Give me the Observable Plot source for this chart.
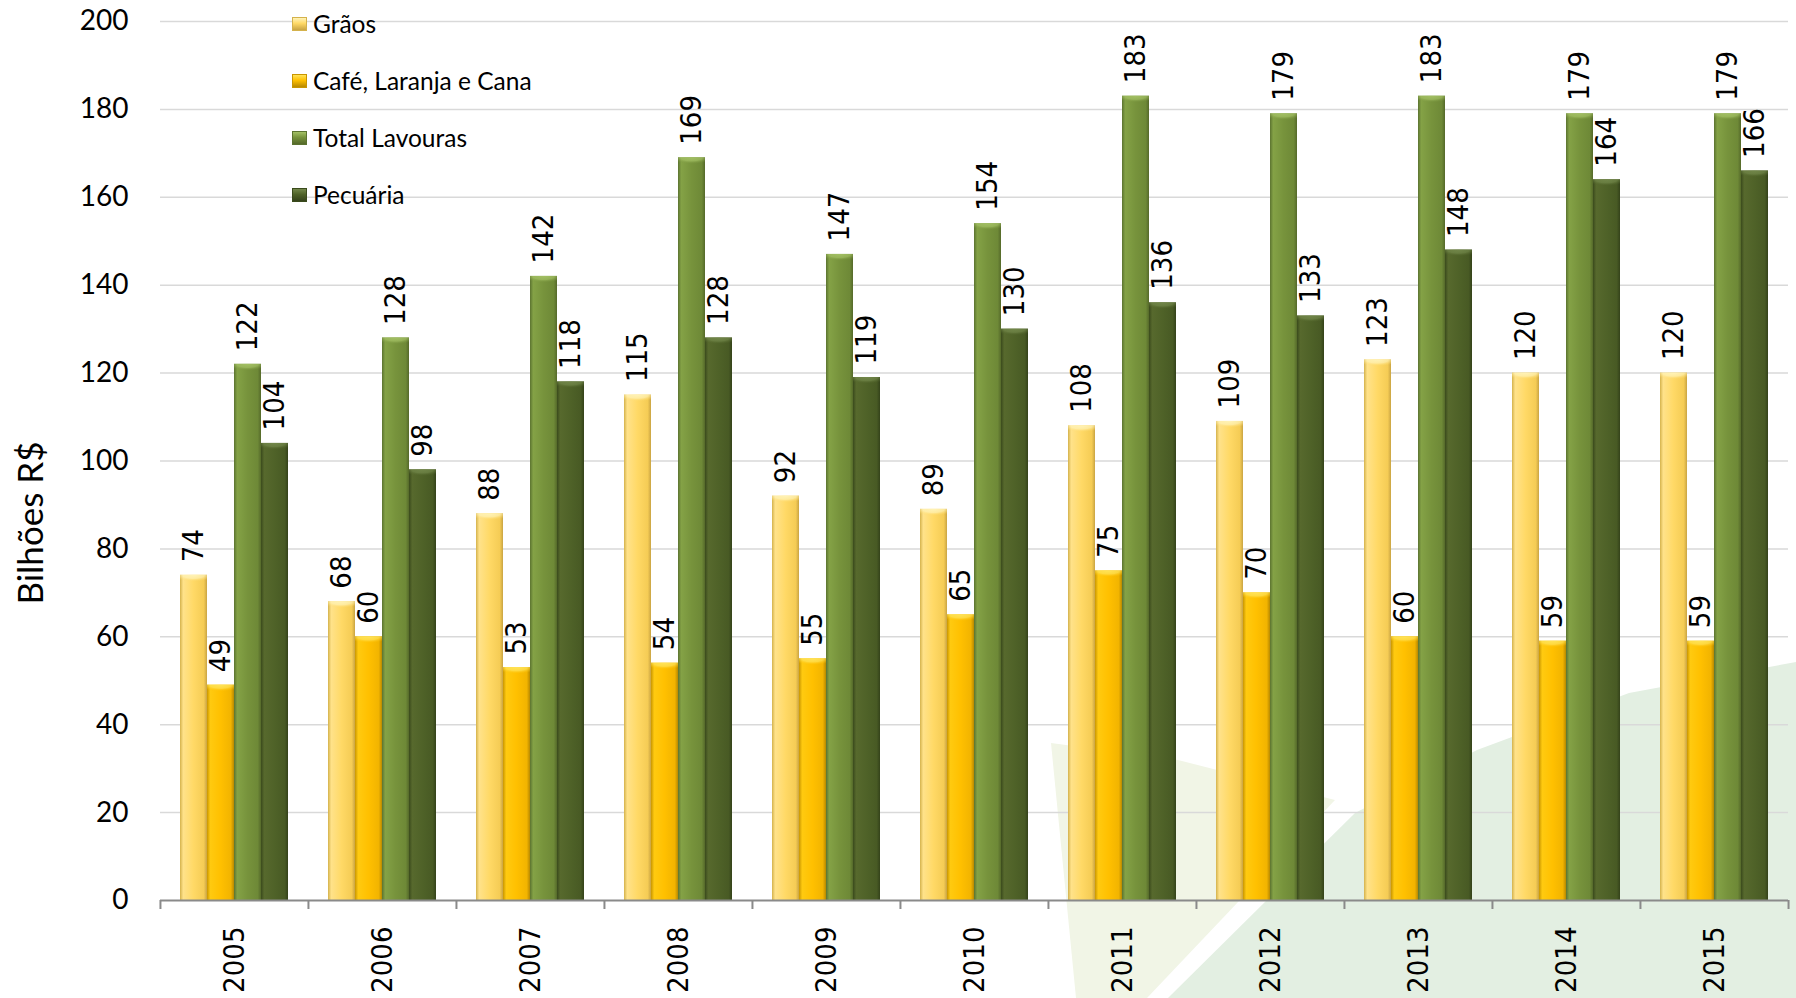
<!DOCTYPE html>
<html>
<head>
<meta charset="utf-8">
<script src="https://cdn.jsdelivr.net/npm/d3@7"></script>
<script src="https://cdn.jsdelivr.net/npm/@observablehq/plot@0.6"></script>
<style>
html, body { margin: 0; padding: 0; background: #fff; }
#wrap { position: relative; width: 1796px; height: 998px; overflow: hidden; background: #fff; }
.bg { position: absolute; left: 0; top: 0; width: 1796px; height: 998px; }
.bg1 { background: #f1f5e6; clip-path: polygon(1051px 743px, 1178px 760px, 1335px 800px, 1147px 998px, 1076px 998px); }
.bg2 { background: #e3efe2; clip-path: polygon(1355px 813px, 1477px 750px, 1629px 693px, 1796px 662px, 1796px 998px, 1168px 998px); }
#chart { position: absolute; left: 0; top: 0; }
#ylabel { position: absolute; left: 28.5px; top: 523px; transform: translate(-50%, -50%) rotate(-90deg);
  font-family: Lato, sans-serif; font-size: 35px; color: #000; white-space: nowrap; }
#legend { position: absolute; left: 292px; top: 0; }
.item { position: absolute; left: 0; height: 28px; display: flex; align-items: center;
  font-family: Lato, sans-serif; font-size: 24.5px; color: #000; white-space: nowrap; }
.sw { width: 15px; height: 14px; margin-right: 6px; box-sizing: border-box; }
</style>
</head>
<body>
<div id="wrap">
  <div class="bg bg1"></div>
  <div class="bg bg2"></div>
  <div id="chart"></div>
  <div id="ylabel">Bilhões R$</div>
  <div id="legend"></div>
</div>
<script>
// ---- Data ----
const years = ["2005","2006","2007","2008","2009","2010","2011","2012","2013","2014","2015"];
const series = ["Grãos", "Café, Laranja e Cana", "Total Lavouras", "Pecuária"];
const graos    = [74, 68, 88, 115, 92, 89, 108, 109, 123, 120, 120];
const cafe     = [49, 60, 53, 54, 55, 65, 75, 70, 60, 59, 59];
const total    = [122, 128, 142, 169, 147, 154, 183, 179, 183, 179, 179];
const pecuaria = [104, 98, 118, 128, 119, 130, 136, 133, 148, 164, 166];
const yTicks = [0, 20, 40, 60, 80, 100, 120, 140, 160, 180, 200];
const yLabel = "Bilhões R$";

// ---- Styles ----
const barStops = [
  ["#d4b24c", "#ffe28a", "#ffd966", "#f5cc55", "#c9a443"],
  ["#c99600", "#ffca10", "#ffc000", "#f2b400", "#b88900"],
  ["#5b7330", "#84a246", "#77933c", "#6e8937", "#55692a"],
  ["#3a4a1c", "#57692d", "#4f6228", "#485a24", "#34421a"]
];
const capLight = ["#fff3b8", "#ffe45a", "#a3c064", "#72874a"];
const baseColors = ["#ffd966", "#ffc000", "#77933c", "#4f6228"];

const cols = [graos, cafe, total, pecuaria];
const table = years.flatMap((year, i) => cols.map((arr, k) => ({year, series: series[k], k, value: arr[i]})));

const fontNum = "DejaVu Sans Condensed, DejaVu Sans, sans-serif";
const W = 1796, H = 998, ML = 159, MR = 8, MT = 21, MB = 98;
const half = (W - ML - MR) / years.length / 2;
const tickLen = 9 * 200 / (H - MT - MB); // boundary tick length expressed in y units

const marks = [
  Plot.ruleY(yTicks.slice(1), {y: d => d, stroke: "#d9d9d9", strokeWidth: 1.5}),
  ...series.map((s, k) => Plot.barY(table.filter(d => d.k === k), {
    fx: "year", x: "series", y: "value", fill: `url(#gb${k})`
  })),
  ...series.map((s, k) => Plot.barY(table.filter(d => d.k === k), {
    fx: "year", x: "series", y1: "value", y2: "value", insetBottom: -9, fill: `url(#gc${k})`
  })),
  Plot.ruleY([0], {stroke: "#8a8a8a", strokeWidth: 2}),
  Plot.ruleX(years, {fx: d => d, x: null, y1: () => 0, y2: () => -tickLen, dx: -half, stroke: "#8a8a8a", strokeWidth: 2}),
  Plot.ruleX(years.slice(-1), {fx: d => d, x: null, y1: () => 0, y2: () => -tickLen, dx: half, stroke: "#8a8a8a", strokeWidth: 2}),
  Plot.text(table, {
    fx: "year", x: "series", y: "value", text: d => String(d.value),
    rotate: -90, textAnchor: "start", dy: -13,
    fontSize: 29, fontFamily: fontNum, fill: "#000"
  }),
  Plot.axisY({ticks: yTicks, tickSize: 0, tickPadding: 32, label: null, fontSize: 28, fontFamily: "Lato, sans-serif", color: "#000"}),
  Plot.axisFx({anchor: "bottom", tickSize: 0, tickRotate: -90, tickPadding: 26, label: null, fontSize: 29, fontFamily: fontNum, color: "#000"})
];

const chart = Plot.plot({
  width: W, height: H,
  marginLeft: ML, marginRight: MR, marginTop: MT, marginBottom: MB,
  style: {background: "transparent", overflow: "visible", color: "#000"},
  fx: {domain: years, paddingInner: 0, paddingOuter: 0, label: null},
  x: {domain: series, paddingInner: 0, paddingOuter: 0.74, axis: null},
  y: {domain: [0, 200], label: null},
  marks
});

// gradients
const svg = d3.select(chart.tagName.toLowerCase() === "svg" ? chart : chart.querySelector("svg"));
const defs = svg.insert("defs", ":first-child");
barStops.forEach((stops, k) => {
  const g = defs.append("linearGradient").attr("id", `gb${k}`).attr("x1", 0).attr("y1", 0).attr("x2", 1).attr("y2", 0);
  [0, 0.12, 0.5, 0.88, 1].forEach((o, j) => g.append("stop").attr("offset", o).attr("stop-color", stops[j]));
  const c = defs.append("radialGradient").attr("id", `gc${k}`).attr("cx", 0.5).attr("cy", 0).attr("r", 0.75);
  c.append("stop").attr("offset", 0).attr("stop-color", capLight[k]);
  c.append("stop").attr("offset", 0.55).attr("stop-color", capLight[k]).attr("stop-opacity", 0.7);
  c.append("stop").attr("offset", 1).attr("stop-color", baseColors[k]).attr("stop-opacity", 0);
});

document.getElementById("chart").appendChild(chart);
document.getElementById("ylabel").textContent = yLabel;

// legend
const legend = d3.select("#legend");
series.forEach((s, k) => {
  const item = legend.append("div").attr("class", "item").style("top", (23.5 + k * 57 - 14) + "px");
  item.append("div").attr("class", "sw")
    .style("background", `linear-gradient(180deg, ${capLight[k]} 0%, ${baseColors[k]} 45%, ${barStops[k][4]} 100%)`)
    .style("border", `1px solid ${barStops[k][0]}`);
  item.append("span").text(s);
});
</script>
</body>
</html>
